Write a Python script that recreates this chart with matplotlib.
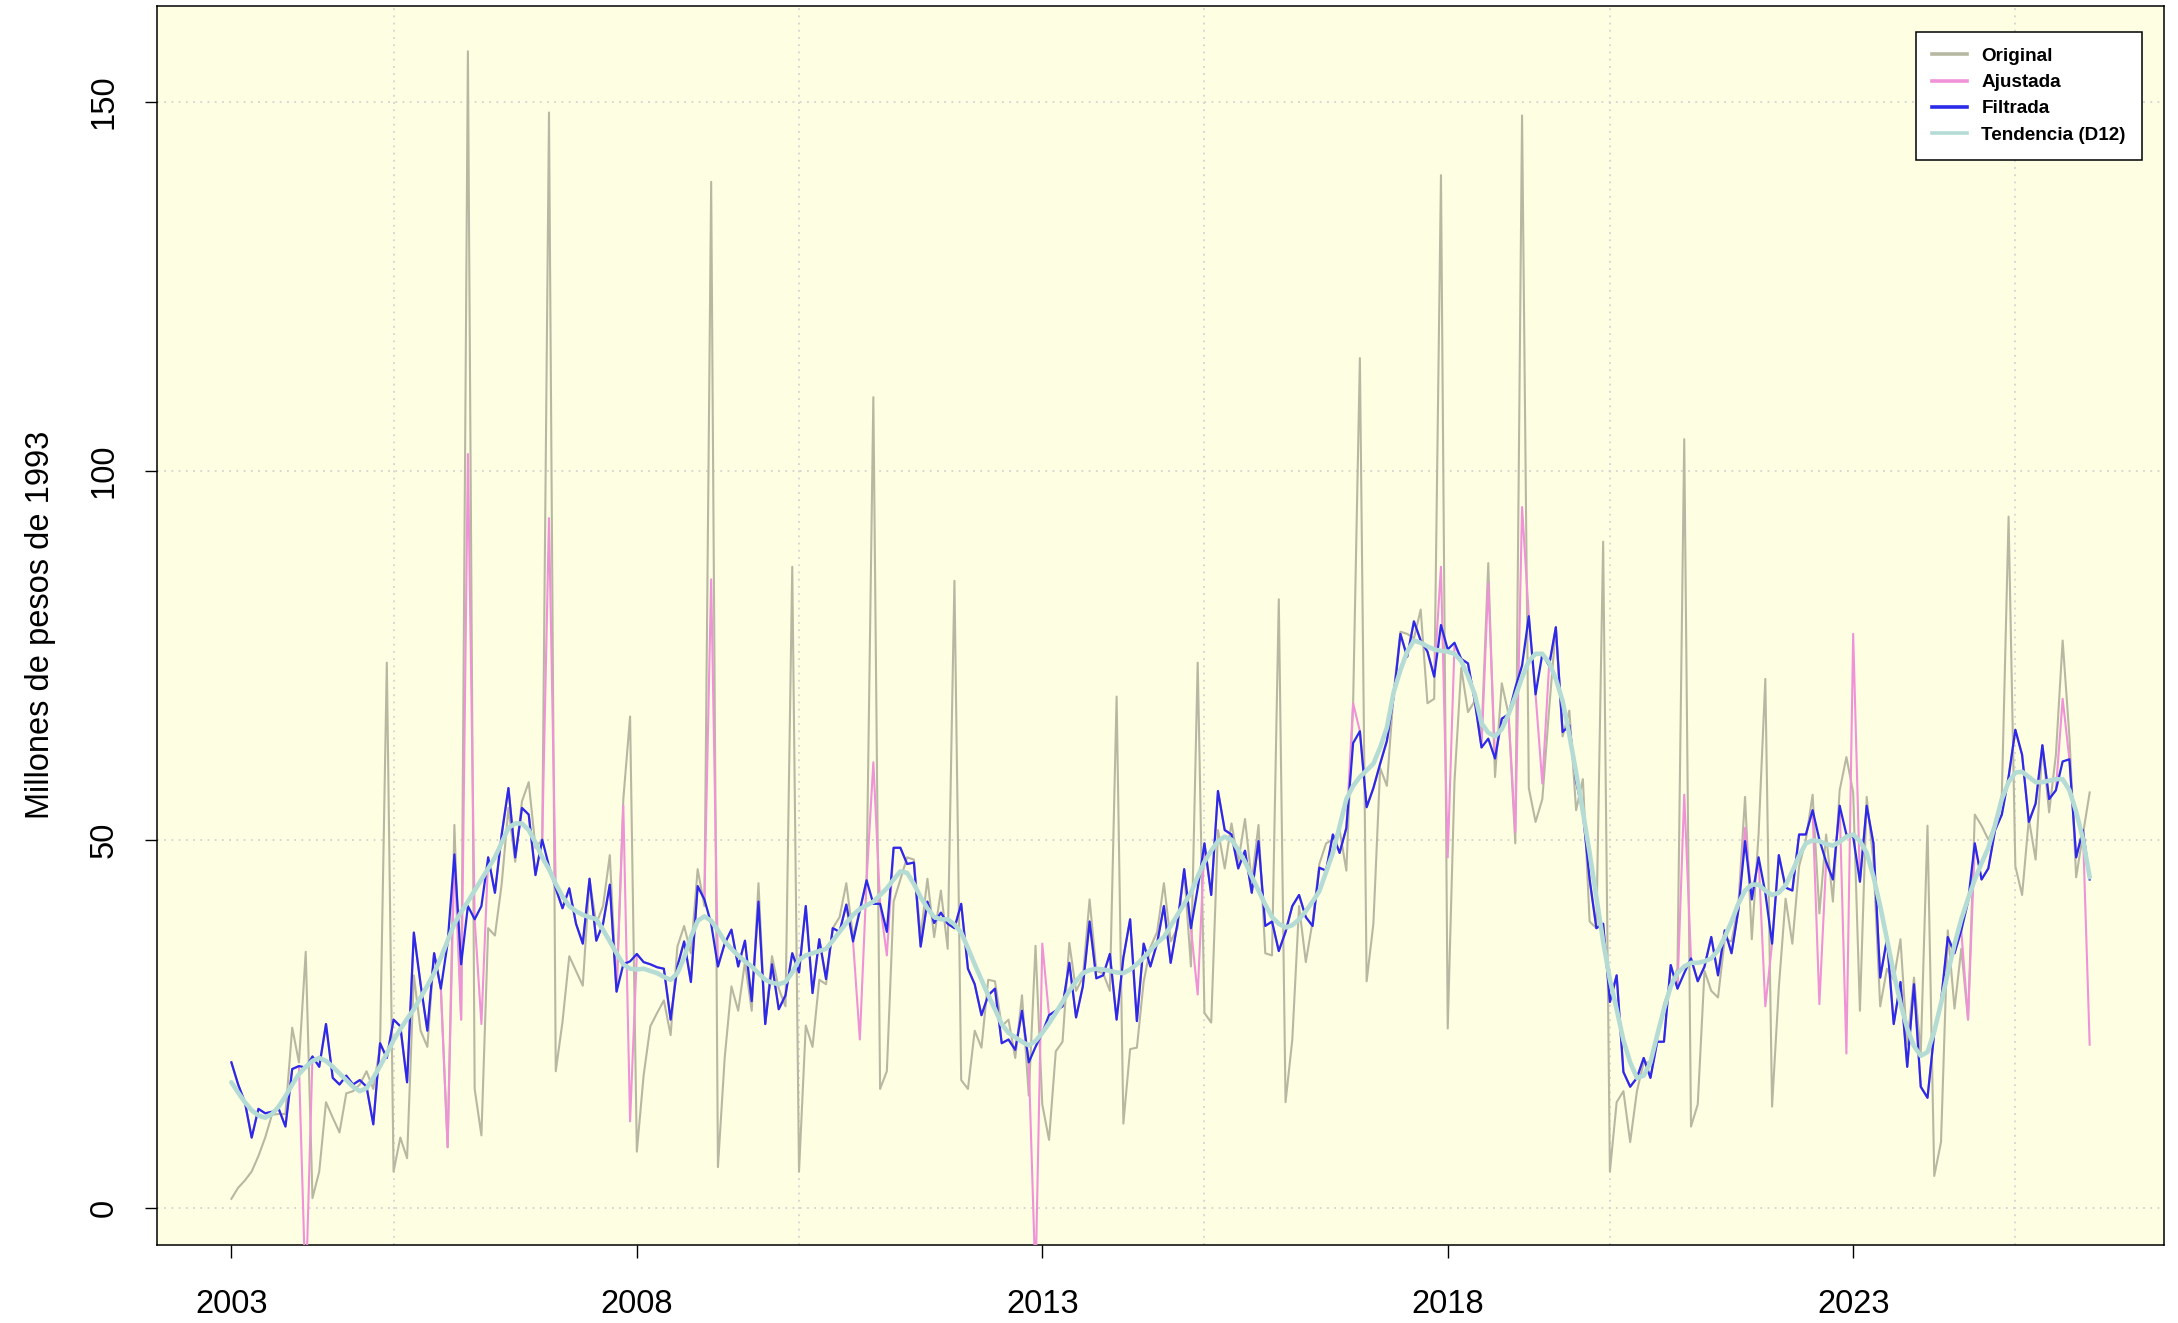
import numpy as np
import matplotlib
matplotlib.use("Agg")
import matplotlib.pyplot as plt
from matplotlib.lines import Line2D

plt.rcParams['font.family'] = ['Liberation Sans', 'DejaVu Sans']

# serie mensual, enero 2003 a diciembre 2025
anio_inicio = 2003

original = [
	1.3, 2.8, 3.8, 5.0, 7.1, 9.6, 12.7, 12.8, 12.8, 24.5, 19.8, 34.8,
	1.4, 5.0, 14.4, 12.3, 10.3, 15.6, 15.9, 16.8, 18.6, 16.2, 22.0, 74.0,
	5.0, 9.6, 6.8, 31.6, 24.1, 21.9, 34.6, 29.8, 8.3, 52.0, 25.6, 156.9,
	16.2, 9.9, 38.0, 37.0, 44.0, 54.3, 47.0, 55.2, 57.8, 48.9, 50.0, 148.6,
	18.6, 25.3, 34.2, 32.2, 30.2, 44.6, 38.6, 41.0, 47.9, 29.4, 55.5, 66.7,
	7.7, 18.0, 24.7, 26.5, 28.2, 23.5, 35.5, 38.3, 34.6, 46.0, 41.0, 139.2,
	5.6, 20.4, 30.1, 26.8, 33.4, 26.8, 44.1, 25.0, 34.2, 29.8, 27.4, 87.0,
	5.0, 24.8, 21.9, 31.0, 30.4, 38.0, 39.5, 44.1, 36.8, 40.4, 44.5, 110.0,
	16.2, 18.6, 41.6, 44.6, 47.6, 47.3, 36.8, 44.7, 36.8, 43.1, 35.2, 85.1,
	17.4, 16.2, 24.1, 21.8, 31.0, 30.8, 24.7, 25.6, 20.4, 28.9, 15.3, 35.6,
	14.1, 9.3, 21.3, 22.6, 36.0, 29.5, 31.3, 41.9, 32.2, 31.9, 29.5, 69.4,
	11.5, 21.6, 21.8, 30.7, 35.4, 37.5, 44.1, 36.2, 38.0, 45.8, 32.8, 74.0,
	26.5, 25.2, 51.3, 46.1, 52.2, 47.0, 52.8, 44.3, 52.0, 34.6, 34.3, 82.6,
	14.4, 22.9, 41.0, 33.4, 38.9, 46.7, 49.5, 50.0, 51.3, 45.8, 68.5, 115.3,
	30.8, 38.6, 59.7, 57.3, 70.0, 78.2, 77.9, 77.3, 81.2, 68.5, 69.1, 140.1,
	24.4, 57.9, 73.3, 67.3, 68.8, 64.0, 87.5, 58.5, 71.2, 67.0, 49.5, 148.2,
	57.0, 52.4, 55.5, 67.6, 78.8, 64.0, 67.5, 54.0, 58.2, 38.9, 38.0, 90.4,
	5.0, 14.4, 15.9, 9.0, 15.9, 19.8, 19.8, 22.9, 27.7, 30.4, 32.5, 104.3,
	11.1, 14.1, 32.2, 29.5, 28.6, 36.5, 36.2, 41.0, 55.8, 36.5, 50.7, 71.8,
	13.8, 30.0, 42.0, 35.9, 46.4, 50.0, 56.1, 40.0, 50.7, 41.6, 56.7, 61.2,
	56.4, 26.8, 55.8, 47.0, 27.4, 32.5, 31.0, 36.5, 22.2, 31.3, 21.0, 51.9,
	4.4, 9.0, 37.7, 27.1, 35.2, 25.6, 53.4, 51.9, 50.0, 51.9, 56.1, 93.8,
	46.4, 42.5, 52.8, 47.3, 62.8, 53.7, 61.5, 77.0, 64.0, 44.9, 50.7, 56.4,
]

ajustada = [
	19.8, 16.8, 14.4, 9.6, 13.5, 12.9, 13.1, 13.5, 11.1, 18.9, 19.3, -12.0,
	20.6, 19.2, 25.0, 17.7, 16.8, 18.0, 16.8, 17.4, 16.5, 11.4, 22.4, 20.4,
	25.6, 24.7, 17.1, 37.4, 30.4, 24.1, 34.6, 29.8, 8.3, 48.0, 25.6, 102.3,
	39.2, 25.0, 47.6, 42.8, 50.7, 57.0, 47.6, 54.3, 53.4, 45.2, 50.0, 93.6,
	43.4, 40.7, 43.4, 38.6, 35.9, 44.7, 36.3, 38.6, 43.9, 29.4, 54.6, 11.8,
	34.5, 33.4, 33.1, 32.7, 32.5, 25.6, 32.8, 36.2, 30.7, 43.7, 41.9, 85.3,
	32.8, 35.9, 37.8, 32.8, 36.3, 28.1, 41.6, 25.0, 33.1, 27.0, 28.9, 34.6,
	32.0, 41.0, 29.2, 36.5, 31.1, 38.0, 37.5, 41.2, 36.2, 22.9, 44.5, 60.5,
	41.3, 34.3, 48.9, 48.9, 46.7, 46.9, 35.5, 41.6, 38.7, 40.1, 38.6, 38.0,
	41.3, 32.5, 30.4, 26.2, 28.9, 29.8, 22.4, 22.9, 21.5, 26.8, 19.8, -10.0,
	35.9, 26.2, 26.8, 27.4, 33.3, 25.9, 30.1, 38.9, 31.2, 31.6, 34.5, 25.6,
	34.0, 39.2, 25.4, 35.9, 32.8, 36.0, 41.0, 33.3, 38.6, 46.0, 38.0, 29.0,
	49.5, 42.5, 56.6, 51.3, 50.7, 46.1, 48.5, 42.8, 49.8, 38.3, 38.9, 34.9,
	37.5, 41.0, 42.5, 39.5, 38.3, 46.2, 45.8, 50.7, 48.2, 51.6, 68.5, 64.7,
	54.4, 57.0, 60.3, 63.4, 69.4, 77.9, 74.8, 79.6, 77.0, 75.5, 72.1, 87.0,
	47.6, 76.4, 74.5, 73.9, 68.8, 62.5, 84.8, 61.0, 66.4, 67.0, 51.0, 95.1,
	80.3, 69.7, 57.6, 73.6, 78.8, 64.6, 65.5, 57.9, 53.7, 44.6, 38.0, 38.6,
	28.0, 31.6, 18.5, 16.5, 17.7, 20.4, 17.7, 22.6, 22.6, 33.0, 29.8, 56.1,
	33.9, 30.8, 32.8, 36.8, 31.6, 37.7, 34.6, 40.4, 51.6, 41.9, 47.6, 27.4,
	35.9, 47.9, 43.5, 43.1, 50.7, 50.7, 54.0, 27.7, 47.0, 44.6, 54.6, 21.0,
	77.9, 44.3, 54.6, 49.5, 31.3, 36.5, 25.0, 30.7, 19.2, 30.4, 16.5, 15.0,
	23.8, 28.0, 36.8, 34.6, 37.7, 25.6, 49.5, 44.6, 46.1, 51.3, 53.4, 58.5,
	64.9, 61.5, 52.4, 54.9, 62.8, 55.5, 56.7, 69.1, 60.9, 47.6, 51.3, 22.2,
]

filtrada = [
	19.8, 16.8, 14.4, 9.6, 13.5, 12.9, 13.1, 13.5, 11.1, 18.9, 19.3, 19.1,
	20.6, 19.2, 25.0, 17.7, 16.8, 18.0, 16.8, 17.4, 16.5, 11.4, 22.4, 20.4,
	25.6, 24.7, 17.1, 37.4, 30.4, 24.1, 34.6, 29.8, 36.0, 48.0, 33.1, 41.0,
	39.2, 41.0, 47.6, 42.8, 50.7, 57.0, 47.6, 54.3, 53.4, 45.2, 50.0, 46.4,
	43.4, 40.7, 43.4, 38.6, 35.9, 44.7, 36.3, 38.6, 43.9, 29.4, 33.1, 33.5,
	34.5, 33.4, 33.1, 32.7, 32.5, 25.6, 32.8, 36.2, 30.7, 43.7, 41.9, 38.6,
	32.8, 35.9, 37.8, 32.8, 36.3, 28.1, 41.6, 25.0, 33.1, 27.0, 28.9, 34.6,
	32.0, 41.0, 29.2, 36.5, 31.1, 38.0, 37.5, 41.2, 36.2, 40.4, 44.5, 41.3,
	41.3, 37.5, 48.9, 48.9, 46.7, 46.9, 35.5, 41.6, 38.7, 40.1, 38.6, 38.0,
	41.3, 32.5, 30.4, 26.2, 28.9, 29.8, 22.4, 22.9, 21.5, 26.8, 19.8, 21.9,
	23.8, 26.2, 26.8, 27.4, 33.3, 25.9, 30.1, 38.9, 31.2, 31.6, 34.5, 25.6,
	34.0, 39.2, 25.4, 35.9, 32.8, 36.0, 41.0, 33.3, 38.6, 46.0, 38.0, 43.4,
	49.5, 42.5, 56.6, 51.3, 50.7, 46.1, 48.5, 42.8, 49.8, 38.3, 38.9, 34.9,
	37.5, 41.0, 42.5, 39.5, 38.3, 46.2, 45.8, 50.7, 48.2, 51.6, 63.1, 64.7,
	54.4, 57.0, 60.3, 63.4, 69.4, 77.9, 74.8, 79.6, 77.0, 75.5, 72.1, 79.1,
	75.8, 76.7, 74.5, 73.9, 68.8, 62.5, 63.7, 61.0, 66.4, 67.0, 70.6, 73.6,
	80.3, 69.7, 75.2, 73.6, 78.8, 64.6, 65.5, 57.9, 53.7, 44.6, 38.0, 38.6,
	28.0, 31.6, 18.5, 16.5, 17.7, 20.4, 17.7, 22.6, 22.6, 33.0, 29.8, 31.9,
	33.9, 30.8, 32.8, 36.8, 31.6, 37.7, 34.6, 40.4, 49.8, 41.9, 47.6, 42.8,
	35.9, 47.9, 43.5, 43.1, 50.7, 50.7, 54.0, 50.0, 47.0, 44.6, 54.6, 50.7,
	50.4, 44.3, 54.6, 49.5, 31.3, 36.5, 25.0, 30.7, 19.2, 30.4, 16.5, 15.0,
	23.8, 28.0, 36.8, 34.6, 37.7, 41.6, 49.5, 44.6, 46.1, 51.3, 53.4, 58.5,
	64.9, 61.5, 52.4, 54.9, 62.8, 55.5, 56.7, 60.6, 60.9, 47.6, 51.3, 44.6,
]

tendencia = [
	17.1, 15.7, 14.4, 13.3, 12.6, 12.3, 12.8, 13.8, 15.2, 16.8, 18.2, 19.2,
	20.0, 20.4, 20.0, 19.2, 18.3, 17.4, 16.5, 15.9, 16.3, 17.7, 19.3, 21.0,
	22.8, 24.3, 25.7, 27.0, 28.6, 30.2, 31.9, 34.0, 36.3, 38.6, 40.2, 41.6,
	43.1, 44.6, 46.1, 47.6, 49.6, 51.6, 52.2, 52.2, 51.3, 49.6, 47.6, 46.0,
	44.0, 42.3, 41.0, 40.3, 39.8, 39.5, 39.2, 37.8, 36.2, 34.6, 33.1, 32.5,
	32.4, 32.5, 32.2, 31.9, 31.4, 31.0, 31.9, 34.0, 36.8, 39.0, 39.6, 39.0,
	37.7, 36.2, 35.2, 34.3, 33.5, 32.8, 31.9, 31.0, 30.6, 30.4, 30.7, 32.0,
	33.7, 34.3, 34.6, 34.9, 35.2, 36.3, 37.5, 38.7, 39.8, 40.6, 41.1, 41.6,
	42.5, 43.4, 44.6, 45.7, 45.5, 44.0, 42.2, 40.7, 39.5, 39.2, 39.2, 38.5,
	37.4, 35.3, 33.1, 31.0, 28.9, 27.0, 25.0, 23.8, 23.2, 22.6, 22.1, 22.7,
	23.8, 25.1, 26.5, 28.0, 29.5, 30.8, 31.9, 32.3, 32.5, 32.4, 32.2, 32.0,
	31.9, 32.4, 33.1, 34.0, 35.0, 36.0, 36.8, 38.3, 39.8, 41.3, 42.8, 45.0,
	47.0, 48.5, 49.8, 50.4, 50.0, 48.6, 47.0, 45.0, 43.1, 41.2, 39.5, 38.6,
	38.1, 38.4, 39.2, 40.3, 41.6, 43.0, 45.6, 48.2, 51.8, 55.5, 57.3, 58.5,
	59.4, 60.3, 62.5, 65.2, 70.0, 73.0, 75.5, 77.0, 76.7, 76.2, 75.8, 75.6,
	75.5, 75.2, 74.2, 72.2, 69.7, 65.8, 64.5, 64.0, 65.0, 67.0, 69.4, 72.0,
	74.2, 75.2, 75.2, 74.0, 71.8, 68.8, 64.2, 59.1, 53.8, 48.2, 42.2, 36.2,
	31.0, 27.0, 22.8, 19.8, 17.7, 18.0, 19.8, 23.5, 27.0, 30.1, 31.9, 32.8,
	33.3, 33.3, 33.5, 33.9, 35.0, 36.8, 38.9, 41.3, 43.1, 43.9, 43.9, 43.1,
	42.5, 42.8, 43.8, 45.7, 47.8, 49.5, 49.9, 49.8, 49.4, 49.2, 49.7, 50.4,
	50.7, 49.8, 48.2, 45.0, 41.0, 36.5, 31.9, 27.8, 24.4, 22.0, 20.7, 21.2,
	24.0, 27.8, 31.9, 35.8, 39.2, 42.0, 44.6, 46.8, 48.9, 52.0, 55.5, 57.8,
	59.1, 59.2, 58.5, 57.8, 57.8, 58.0, 58.2, 58.2, 56.7, 53.8, 50.1, 44.9,
]

anios_eje = [2003, 2008, 2013, 2018, 2023]
valores_eje = [0, 50, 100, 150]
rejilla_x = [2005, 2010, 2015, 2020, 2025]

nombres = ['Original', 'Ajustada', 'Filtrada', 'Tendencia (D12)']
colores = ['#b8b8a2', '#ef92d8', '#2a2ae8', '#b4dcd5']

t = anio_inicio + np.arange(len(original)) / 12.0

fig = plt.figure(figsize=(21.78, 13.23), dpi=100)
ax = fig.add_axes([0.0721, 0.0593, 0.9215, 0.9365])
ax.set_facecolor('#fefee3')

for gx in rejilla_x:
	ax.axvline(gx, color='#d3d3d3', linestyle=(0, (1, 3)), linewidth=1.3, zorder=1)
for gy in valores_eje:
	ax.axhline(gy, color='#d3d3d3', linestyle=(0, (1, 3)), linewidth=1.3, zorder=1)

ax.plot(t, original, color=colores[0], linewidth=1.5, zorder=2)
ax.plot(t, ajustada, color=colores[1], linewidth=1.5, zorder=3)
ax.plot(t, filtrada, color=colores[2], linewidth=1.6, zorder=4)
ax.plot(t, tendencia, color=colores[3], linewidth=3.3, zorder=5,
	solid_capstyle='round')

ax.set_xlim(2002.083, 2026.834)
ax.set_ylim(-4.9, 163.1)

ax.set_xticks(anios_eje)
ax.set_xticklabels([str(a) for a in anios_eje])
ax.set_yticks(valores_eje)
ax.set_yticklabels([str(v) for v in valores_eje], rotation=90, va='center')
ax.tick_params(axis='both', direction='out', length=9, width=1.0,
	labelsize=23.5, color='black')
ax.tick_params(axis='x', pad=23)
ax.tick_params(axis='y', pad=18)

for s in ax.spines.values():
	s.set_linewidth(1.1)
	s.set_color('black')

ax.set_ylabel('Millones de pesos de 1993', fontsize=23.5)
ax.yaxis.set_label_coords(-0.0505, 0.5)

manijas = [Line2D([0], [0], color=c, linewidth=2.6) for c in colores]
ley = ax.legend(manijas, nombres, loc='upper right',
	bbox_to_anchor=(0.989, 0.979), borderaxespad=0, frameon=True,
	fancybox=False, edgecolor='black', facecolor='white', framealpha=1,
	prop={'weight': 'bold', 'size': 13.6}, handlelength=1.85,
	handletextpad=0.75, labelspacing=0.48, borderpad=0.85)
ley.get_frame().set_linewidth(1.1)

plt.savefig('out.png', dpi=100)
